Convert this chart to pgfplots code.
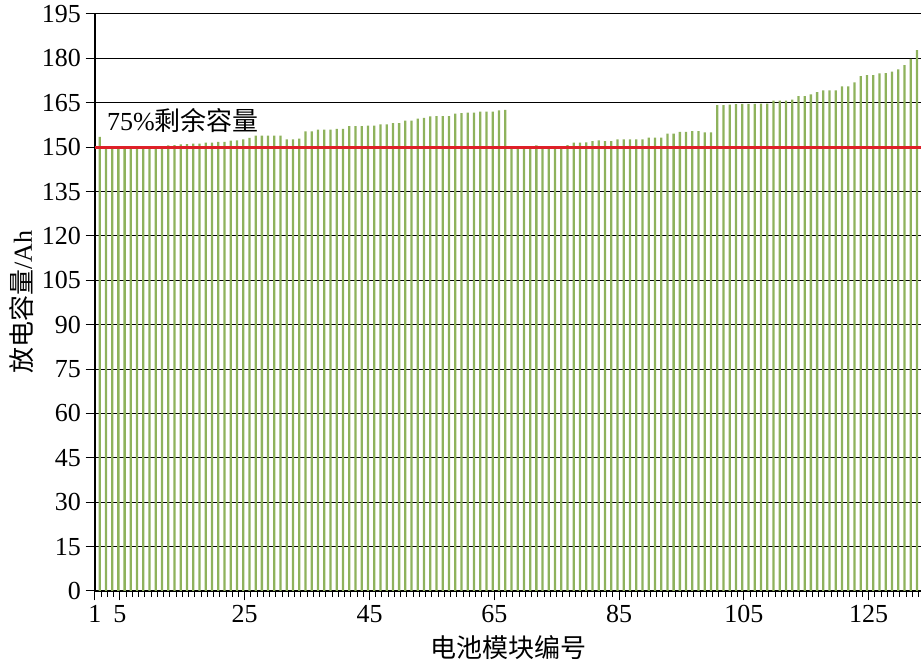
\documentclass[border=0pt]{standalone}
\usepackage{fontspec}
\setmainfont{Liberation Serif}
\newfontfamily\cjk{Noto Sans CJK SC}
\usepackage{pgfplots}
\pgfplotsset{compat=1.18}
\definecolor{bargreen}{RGB}{142,178,92}
\definecolor{refred}{RGB}{222,32,40}
\begin{document}
\begin{tikzpicture}
\begin{axis}[
  scale only axis, width=619.5pt, height=432.75pt,
  xmin=1, xmax=133.4, ymin=0, ymax=195,
  axis x line=bottom, axis y line=left,
  axis line style={-, line width=0.8pt},
  xtick={1,5,25,45,65,85,105,125},
  minor xtick={1,...,133},
  ytick={0,15,...,195},
  ymajorgrids, grid style={black, line width=0.75pt},
  tick align=outside,
  major tick length=7pt, minor tick length=4.5pt,
  tick style={black, line width=0.75pt},
  /pgf/number format/assume math mode=true,
  tick label style={font=\fontsize{19.5}{23}\selectfont},
  label style={font=\fontsize{19.5}{23}\selectfont},
  xlabel={\cjk 电池模块编号},
  ylabel={{\cjk 放电容量}/Ah},
  xlabel style={at={(axis description cs:0.5,-0.0988)},anchor=center},
  ylabel style={at={(axis description cs:-0.0884,0.5)},anchor=center},
]
\addplot[ybar, bar width=1.7pt, bar shift=3.5pt, fill=bargreen, draw=none] coordinates {
(1,153.5) (2,150.2) (3,150.2) (4,150.2) (5,150.2) (6,150.2) (7,150.2) (8,150.2) (9,150.2) (10,150.2)
(11,150.2) (12,150.6) (13,150.7) (14,150.9) (15,151.0) (16,151.2) (17,151.2) (18,151.5) (19,151.5) (20,151.8)
(21,151.8) (22,152.2) (23,152.3) (24,152.6) (25,153.1) (26,153.9) (27,153.9) (28,153.9) (29,153.9) (30,153.9)
(31,152.6) (32,152.6) (33,152.9) (34,155.3) (35,155.3) (36,155.9) (37,155.9) (38,155.9) (39,156.2) (40,156.2)
(41,157.1) (42,157.1) (43,157.1) (44,157.3) (45,157.3) (46,157.7) (47,157.7) (48,158.1) (49,158.1) (50,159.0)
(51,159.0) (52,159.6) (53,159.9) (54,160.4) (55,160.5) (56,160.5) (57,160.5) (58,161.3) (59,161.5) (60,161.7)
(61,161.7) (62,162.0) (63,162.0) (64,162.0) (65,162.4) (66,162.6) (67,150.2) (68,150.2) (69,150.2) (70,150.2)
(71,150.6) (72,150.2) (73,150.2) (74,150.2) (75,150.2) (76,150.7) (77,151.5) (78,151.5) (79,151.6) (80,152.0)
(81,152.3) (82,152.0) (83,152.0) (84,152.6) (85,152.6) (86,152.6) (87,152.6) (88,152.6) (89,153.2) (90,153.2)
(91,153.2) (92,154.6) (93,154.6) (94,155.2) (95,155.2) (96,155.4) (97,155.4) (98,155.0) (99,155.0) (100,164.2)
(101,164.2) (102,164.4) (103,164.5) (104,164.6) (105,164.6) (106,164.6) (107,164.7) (108,164.7) (109,165.7) (110,165.7)
(111,165.7) (112,166.1) (113,167.2) (114,167.2) (115,167.8) (116,168.6) (117,169.2) (118,169.2) (119,169.2) (120,170.5)
(121,170.5) (122,171.9) (123,174.0) (124,174.3) (125,174.3) (126,174.9) (127,175.0) (128,175.5) (129,176.3) (130,177.7)
(131,179.8) (132,182.8)
};
\addplot[refred, line width=2.2pt, forget plot] coordinates {(1,150) (133.4,150)};
\node[anchor=base west, font=\fontsize{19.5}{23}\selectfont, inner sep=0pt] at (axis cs:2.9,155.6) {75\%{\cjk 剩余容量}};
\end{axis}
\pgfresetboundingbox
\path[use as bounding box] (current axis.south west) ++(-71.25pt,-56.25pt) rectangle ++(690.75pt,499.5pt);
\end{tikzpicture}
\end{document}
